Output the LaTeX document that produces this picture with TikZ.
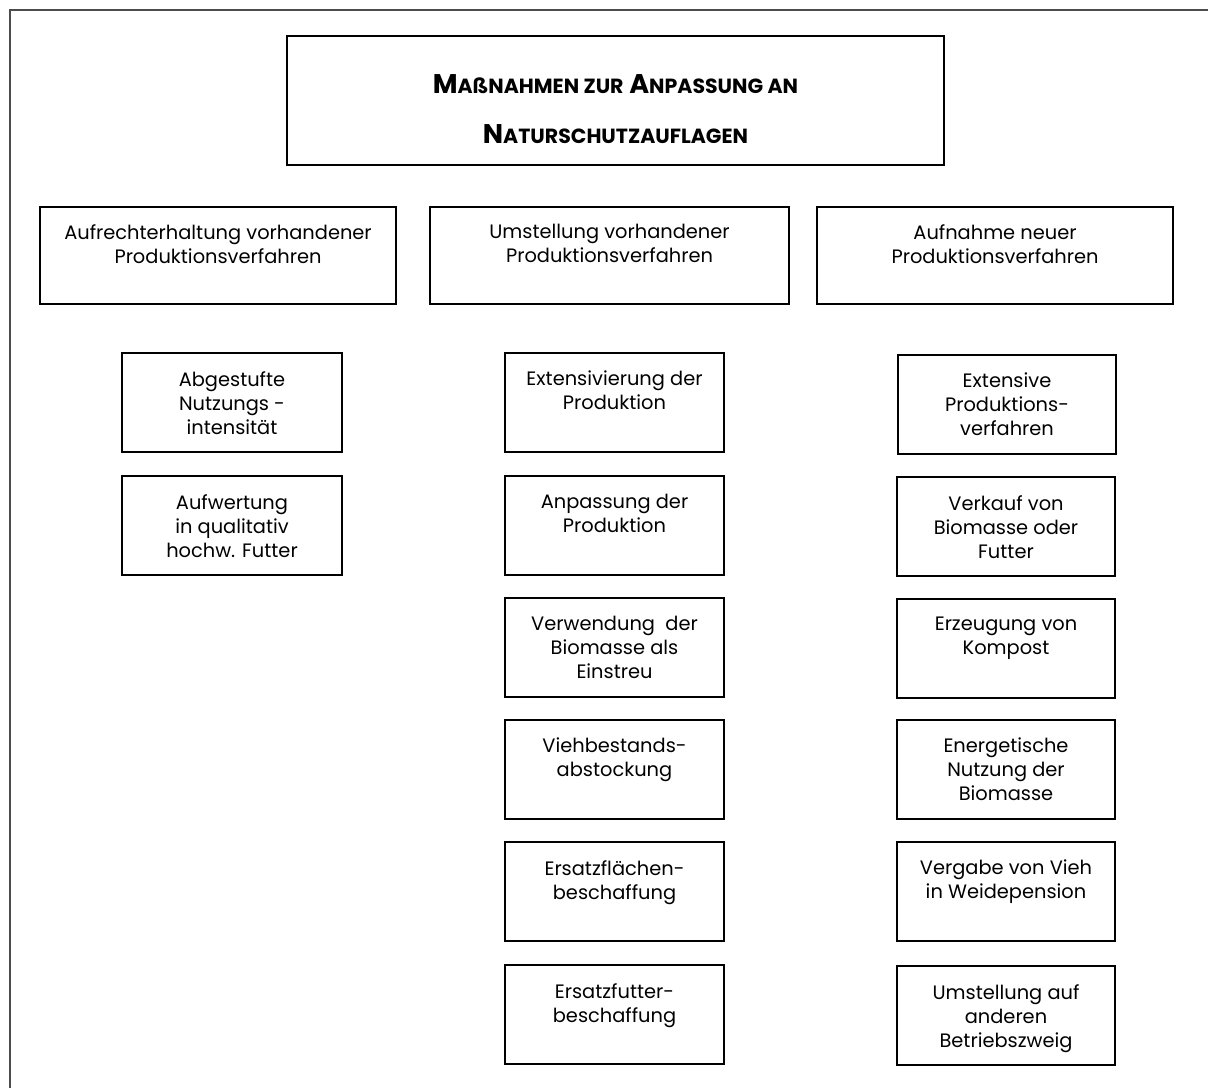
\documentclass[tikz,border=0pt]{standalone}
\usepackage{fontspec}
\setmainfont{Poppins}
\newcommand\capsc[2]{{\fontsize{27}{50}\selectfont #1}{\fontsize{20.5}{50}\selectfont #2}}
\begin{document}
\begin{tikzpicture}[x=1pt,y=-1pt,
  boxst/.style={draw, line width=1.5pt, anchor=north west, inner sep=0pt, outer sep=0pt},
  txt/.style={anchor=north, align=center, inner sep=0pt, yshift=-18pt,
    font=\fontsize{19.4}{24}\selectfont},
  ttl/.style={anchor=north, align=center, inner sep=0pt, yshift=-38pt,
    font=\bfseries\fontsize{27}{50}\selectfont}]
\useasboundingbox (0,0) rectangle (1208,1088);
\draw[line width=2pt, black!70] (9.5,1088) -- (9.5,9.5) -- (1208,9.5);
% title
\node[boxst, minimum width=657pt, minimum height=129pt,
  label={[ttl]north:{\capsc{M}{AßNAHMEN ZUR} \capsc{A}{NPASSUNG AN}\\\capsc{N}{ATURSCHUTZAUFLAGEN}}}]
  (title) at (287,36) {};
% row 1
\node[boxst, minimum width=356pt, minimum height=97pt,
  label={[txt,yshift=1pt]north:{Aufrechterhaltung vorhandener\\Produktionsverfahren}}] (b1) at (40,207) {};
\node[boxst, minimum width=359pt, minimum height=97pt,
  label={[txt,yshift=1pt]north:{Umstellung vorhandener\\Produktionsverfahren}}] (b2) at (430,207) {};
\node[boxst, minimum width=356pt, minimum height=97pt,
  label={[txt,yshift=1pt]north:{Aufnahme neuer\\Produktionsverfahren}}] (b3) at (817,207) {};
% left column
\node[boxst, minimum width=220pt, minimum height=99pt,
  label={[txt]north:{Abgestufte\\Nutzungs -\\intensität}}] (l1) at (122,353) {};
\node[boxst, minimum width=220pt, minimum height=99pt,
  label={[txt]north:{Aufwertung\\in qualitativ\\hochw. Futter}}] (l2) at (122,476) {};
% middle column
\node[boxst, minimum width=219pt, minimum height=99pt,
  label={[txt]north:{Extensivierung der\\Produktion}}] (m1) at (505,353) {};
\node[boxst, minimum width=219pt, minimum height=99pt,
  label={[txt]north:{Anpassung der\\Produktion}}] (m2) at (505,476) {};
\node[boxst, minimum width=219pt, minimum height=99pt,
  label={[txt]north:{Verwendung\ \ der\\Biomasse als\\Einstreu}}] (m3) at (505,598) {};
\node[boxst, minimum width=219pt, minimum height=99pt,
  label={[txt]north:{Viehbestands-\\abstockung}}] (m4) at (505,720) {};
\node[boxst, minimum width=219pt, minimum height=99pt,
  label={[txt]north:{Ersatzflächen-\\beschaffung}}] (m5) at (505,842) {};
\node[boxst, minimum width=219pt, minimum height=99pt,
  label={[txt]north:{Ersatzfutter-\\beschaffung}}] (m6) at (505,965) {};
% right column
\node[boxst, minimum width=218pt, minimum height=99pt,
  label={[txt]north:{Extensive\\Produktions-\\verfahren}}] (r1) at (898,355) {};
\node[boxst, minimum width=218pt, minimum height=99pt,
  label={[txt]north:{Verkauf von\\Biomasse oder\\Futter}}] (r2) at (897,477) {};
\node[boxst, minimum width=218pt, minimum height=99pt,
  label={[txt]north:{Erzeugung von\\Kompost}}] (r3) at (897,599) {};
\node[boxst, minimum width=218pt, minimum height=99pt,
  label={[txt]north:{Energetische\\Nutzung der\\Biomasse}}] (r4) at (897,720) {};
\node[boxst, minimum width=218pt, minimum height=99pt,
  label={[txt]north:{Vergabe von Vieh\\in Weidepension}}] (r5) at (897,842) {};
\node[boxst, minimum width=218pt, minimum height=99pt,
  label={[txt]north:{Umstellung auf\\anderen\\Betriebszweig}}] (r6) at (897,966) {};
\end{tikzpicture}
\end{document}
